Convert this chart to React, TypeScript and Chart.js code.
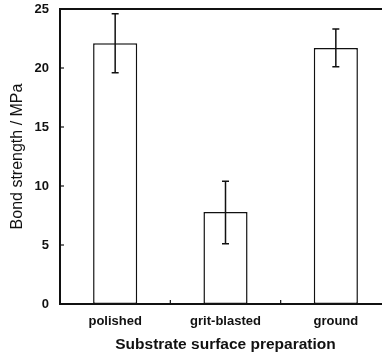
import React, { useEffect, useRef } from "react";
import { Chart, registerables } from "chart.js";

Chart.register(...registerables);

const categories = ["polished", "grit-blasted", "ground"];
const bondStrength = [22.1, 7.8, 21.7];
const errorHigh = [24.6, 10.4, 23.3];
const errorLow = [19.6, 5.1, 20.1];
const yTickValues = [0, 5, 10, 15, 20, 25];

const FONT = "'Liberation Sans', Arial, sans-serif";

const framePlugin = {
  id: "frameAndErrors",
  afterDatasetsDraw(chart: any) {
    const { ctx, chartArea } = chart;
    const x = chart.scales.x;
    const y = chart.scales.y;
    ctx.save();
    // error bars
    ctx.strokeStyle = "#111";
    ctx.lineWidth = 1.5;
    categories.forEach((_, i) => {
      const cx = x.getPixelForValue(i);
      const yh = y.getPixelForValue(errorHigh[i]);
      const yl = y.getPixelForValue(errorLow[i]);
      ctx.beginPath();
      ctx.moveTo(cx, yh);
      ctx.lineTo(cx, yl);
      ctx.moveTo(cx - 3.5, yh);
      ctx.lineTo(cx + 3.5, yh);
      ctx.moveTo(cx - 3.5, yl);
      ctx.lineTo(cx + 3.5, yl);
      ctx.stroke();
    });
    // inward y ticks
    ctx.lineWidth = 1.2;
    yTickValues.forEach((v) => {
      const py = y.getPixelForValue(v);
      ctx.beginPath();
      ctx.moveTo(chartArea.left, py);
      ctx.lineTo(chartArea.left + 4, py);
      ctx.stroke();
    });
    // x ticks at category boundaries
    for (let i = 0; i < categories.length - 1; i++) {
      const px = (x.getPixelForValue(i) + x.getPixelForValue(i + 1)) / 2;
      ctx.beginPath();
      ctx.moveTo(px, chartArea.bottom);
      ctx.lineTo(px, chartArea.bottom - 4);
      ctx.stroke();
    }
    // frame
    ctx.lineWidth = 2;
    ctx.strokeRect(
      chartArea.left,
      chartArea.top,
      chartArea.right - chartArea.left,
      chartArea.bottom - chartArea.top
    );
    ctx.restore();
  },
};

export default function App() {
  const ref = useRef<HTMLCanvasElement | null>(null);
  useEffect(() => {
    if (!ref.current) return;
    const chart = new Chart(ref.current, {
      type: "bar",
      data: {
        labels: categories,
        datasets: [
          {
            data: bondStrength,
            backgroundColor: "#ffffff",
            borderColor: "#111111",
            borderWidth: 1.5,
            borderSkipped: false,
            barPercentage: 0.4,
            categoryPercentage: 1,
          },
        ],
      },
      options: {
        animation: false,
        responsive: false,
        events: [],
        layout: { padding: { top: 9, right: 9, left: 0, bottom: 0 } },
        plugins: {
          legend: { display: false },
          tooltip: { enabled: false },
        },
        scales: {
          x: {
            grid: { display: false, drawTicks: true, tickLength: 8 },
            border: { display: false },
            ticks: {
              color: "#111",
              padding: 2,
              font: { family: FONT, size: 13, weight: "bold" },
            },
            title: {
              display: true,
              text: "Substrate surface preparation",
              color: "#111",
              font: { family: FONT, size: 15.5, weight: "bold" },
              padding: { top: 0, bottom: 2 },
            },
            afterFit(scale: any) {
              scale.height = 52;
            },
          },
          y: {
            min: 0,
            max: 25,
            grid: { display: false, drawTicks: true, tickLength: 10 },
            border: { display: false },
            ticks: {
              stepSize: 5,
              color: "#111",
              padding: 1,
              font: { family: FONT, size: 13, weight: "bold" },
            },
            title: {
              display: true,
              text: "Bond strength / MPa",
              color: "#111",
              font: { family: FONT, size: 16 },
              padding: { top: 8, bottom: 0 },
            },
            afterFit(scale: any) {
              scale.width = 60;
            },
          },
        },
      },
      plugins: [framePlugin],
    });
    return () => chart.destroy();
  }, []);
  return (
    <div
      style={{
        position: "fixed",
        left: 0,
        top: 0,
        width: 382,
        height: 356,
        overflow: "hidden",
        background: "#fff",
      }}
    >
      <canvas ref={ref} width={400} height={356} style={{ display: "block" }} />
    </div>
  );
}
